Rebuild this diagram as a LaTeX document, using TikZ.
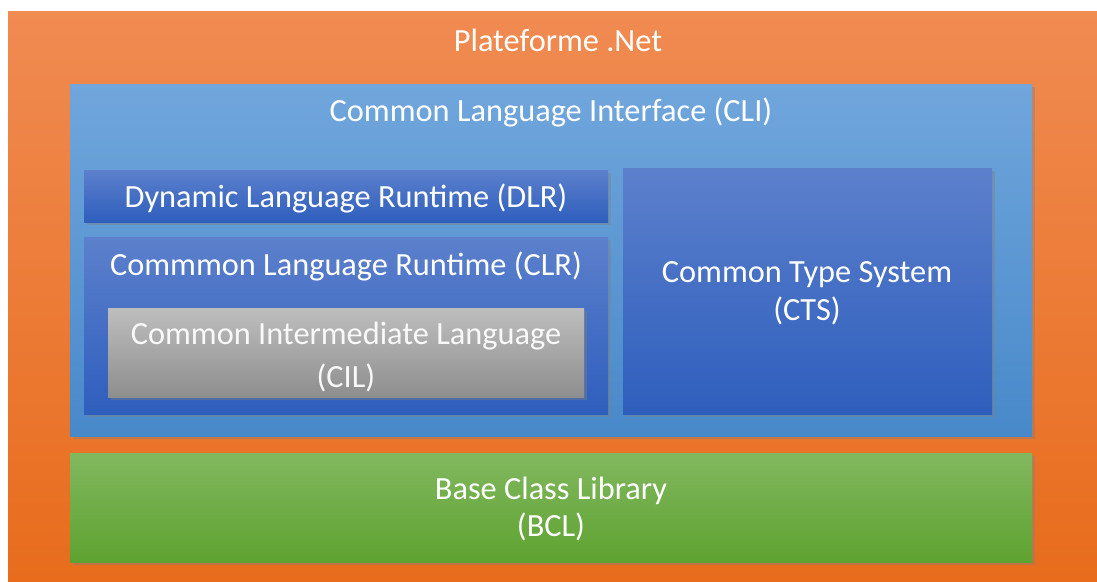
\documentclass[tikz,border=0pt]{standalone}
\usepackage{fontspec}
\setmainfont{Carlito}
\usepackage{tikz}
\usetikzlibrary{shadows}

\definecolor{orangetop}{HTML}{F08B52}
\definecolor{orangebot}{HTML}{E86C1C}
\definecolor{clitop}{HTML}{70A6DC}
\definecolor{clibot}{HTML}{4889CA}
\definecolor{runtop}{HTML}{5C80CC}
\definecolor{runbot}{HTML}{2E5EBD}
\definecolor{ciltop}{HTML}{BEBEBE}
\definecolor{cilbot}{HTML}{8E8E8E}
\definecolor{bcltop}{HTML}{82B85F}
\definecolor{bclbot}{HTML}{5EA230}

\tikzset{
  layer/.style={drop shadow={opacity=0.4, shadow xshift=2pt, shadow yshift=-2pt}},
  caption/.style={text=white, align=center, inner sep=0pt, font=\fontsize{23}{27}\selectfont}
}

\begin{document}
\begin{tikzpicture}[x=0.025cm, y=-0.025cm]
    \useasboundingbox (0,0) rectangle (1097,581);
    \fill[white] (0,0) rectangle (1097,581);
    % Platform
    \shade[top color=orangetop, bottom color=orangebot] (8,11) rectangle (1097,581);
    \node[caption] (net) at (558,40) {Plateforme .Net};
    % CLI
    \path[layer, top color=clitop, bottom color=clibot] (70,84) rectangle (1032,436);
    \node[caption] (cli) at (551,112) {Common Language Interface (CLI)};
    % DLR
    \path[layer, top color=runtop, bottom color=runbot] (84,170) rectangle (608,222);
    \node[caption] (dlr) at (346,198) {Dynamic Language Runtime (DLR)};
    % CLR
    \path[layer, top color=runtop, bottom color=runbot] (84,237) rectangle (608,414);
    \node[caption] (clr) at (346,266) {Commmon Language Runtime (CLR)};
    % CIL
    \path[layer, top color=ciltop, bottom color=cilbot] (108,308) rectangle (584,397);
    \node[caption, text=white!95!gray] (cil) at (346,357) {Common Intermediate Language\\[4pt](CIL)};
    % CTS
    \path[layer, top color=runtop, bottom color=runbot] (623,168) rectangle (992,414);
    \node[caption] (cts) at (807,293) {Common Type System\\(CTS)};
    % BCL
    \path[layer, top color=bcltop, bottom color=bclbot] (70,453) rectangle (1032,562);
    \node[caption] (bcl) at (551,509) {Base Class Library\\(BCL)};
\end{tikzpicture}
\end{document}
